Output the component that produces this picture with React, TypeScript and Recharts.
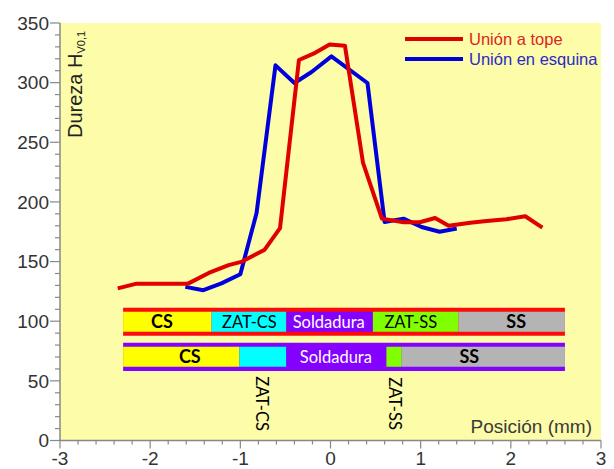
import React from 'react';
import {
  LineChart,
  Line,
  XAxis,
  YAxis,
  CartesianGrid,
  ReferenceArea,
  ReferenceDot,
  Legend,
} from 'recharts';

// ---------- data ----------
const redX = [-2.36, -2.15, -1.58, -1.35, -1.13, -0.98, -0.73, -0.56, -0.35, -0.17, -0.01, 0.16, 0.36, 0.57, 0.81, 0.99, 1.16, 1.31, 1.55, 1.73, 1.95, 2.16, 2.35];
const redY = [127.5, 131.5, 131.5, 140.5, 147, 150, 160, 178, 319, 325, 332, 331, 233, 186, 183, 183, 186.5, 180, 182.5, 184, 185.5, 188, 178.5];

const blueX = [-1.61, -1.41, -1.21, -1.0, -0.82, -0.61, -0.4, -0.21, 0.01, 0.41, 0.6, 0.81, 1.01, 1.21, 1.4];
const blueY = [128.8, 126, 131.7, 139.4, 190.8, 314.5, 299.7, 308.9, 322, 299.7, 183.2, 186, 179, 175, 177.7];

const seriesNames = ['Unión a tope', 'Unión en esquina'];

// composition schematic (x in mm, y in hardness units of the plot)
const topBarEdges = [-2.3, -1.32, -0.49, 0.47, 1.42, 2.6];
const topBarNames = ['CS', 'ZAT-CS', 'Soldadura', 'ZAT-SS', 'SS'];
const topBarLabelX = [-1.87, -0.9, -0.02, 0.89, 2.06];
const topBarOuter = [87.8, 111.2];
const topBarInner = [91.1, 107.9];

const botBarEdges = [-2.3, -1.01, -0.49, 0.62, 0.79, 2.6];
const botBarNames = ['CS', '', 'Soldadura', '', 'SS'];
const botBarLabelX = [-1.56, 0, 0.06, 0, 1.54];
const botBarOuter = [58.2, 81.9];
const botBarInner = [61.8, 78.6];

const sideLabels = ['ZAT-CS', 'ZAT-SS'];
const sideLabelX = [-0.76, 0.72];
const sideLabelY = [31, 31];

// axes
const xMajor = [-3, -2, -1, 0, 1, 2, 3];
const xTicks = [-3, -2.8, -2.6, -2.4, -2.2, -2, -1.8, -1.6, -1.4, -1.2, -1, -0.8, -0.6, -0.4, -0.2, 0, 0.2, 0.4, 0.6, 0.8, 1, 1.2, 1.4, 1.6, 1.8, 2, 2.2, 2.4, 2.6, 2.8, 3];
const yMajor = [0, 50, 100, 150, 200, 250, 300, 350];
const yTicks = [0, 10, 20, 30, 40, 50, 60, 70, 80, 90, 100, 110, 120, 130, 140, 150, 160, 170, 180, 190, 200, 210, 220, 230, 240, 250, 260, 270, 280, 290, 300, 310, 320, 330, 340, 350];

// ---------- styles ----------
const FONT = 'Liberation Sans, Arial, Helvetica, sans-serif';
const BAR_FONT = 'Lato, Open Sans, sans-serif';
const RED = '#e00000';
const BLUE = '#0000dc';
const RED_TEXT = '#e02424';
const BLUE_TEXT = '#2a2ac8';
const PLOT_BG = '#fcfca9';
const segColors = ['#ffff00', '#00ffff', '#8400ff', '#80ff00', '#b4b4b4'];
const labelFill = (name: string) => (name === 'Soldadura' ? '#ffffff' : '#000000');
const labelWeight = (name: string) => (name === 'CS' || name === 'SS' ? 700 : 400);

const redData = redX.map((x, i) => ({ x, y: redY[i] }));
const blueData = blueX.map((x, i) => ({ x, y: blueY[i] }));

const XTick = (props: any) => {
  const { x, y, payload } = props;
  const major = xMajor.includes(payload.value);
  return (
    <g>
      <line x1={x} x2={x} y1={y} y2={y + (major ? 8 : 4)} stroke="#888" strokeWidth={1.2} />
      {major && (
        <text x={x} y={y + 24} textAnchor="middle" fontSize={19} fill="#333" fontFamily={FONT}>
          {payload.value}
        </text>
      )}
    </g>
  );
};

const YTick = (props: any) => {
  const { x, y, payload } = props;
  const major = yMajor.includes(payload.value);
  return (
    <g>
      <line x1={x - (major ? 10 : 5)} x2={x} y1={y} y2={y} stroke="#888" strokeWidth={1.2} />
      {major && (
        <text x={x - 11} y={y} dy="0.36em" textAnchor="end" fontSize={19} fill="#333" fontFamily={FONT}>
          {payload.value}
        </text>
      )}
    </g>
  );
};

const YLabel = (props: any) => {
  const vb = props.viewBox || { x: 0, y: 23, width: 60, height: 417 };
  const tx = vb.x + vb.width + 22;
  const ty = vb.y + 115;
  return (
    <text
      x={tx}
      y={ty}
      transform={`rotate(-90 ${tx} ${ty})`}
      textAnchor="start"
      fontSize={20}
      fill="#222"
      fontFamily={FONT}
    >
      Dureza H
      <tspan fontSize={11} dy={3}>V0,1</tspan>
    </text>
  );
};

const XLabel = (props: any) => {
  const vb = props.viewBox || { x: 60, y: 440, width: 541, height: 29 };
  return (
    <text
      x={vb.x + vb.width - 9}
      y={vb.y - 8}
      textAnchor="end"
      fontSize={19}
      fill="#3a3a3a"
      fontFamily={FONT}
    >
      Posición (mm)
    </text>
  );
};

const renderLegend = () => {
  const cols = [RED, BLUE];
  const tcols = [RED_TEXT, BLUE_TEXT];
  return (
    <div style={{ position: 'relative', width: 214, height: 44 }}>
      {seriesNames.map((n, i) => (
        <div
          key={n}
          style={{ position: 'absolute', left: 0, top: i * 20, height: 20, display: 'flex', alignItems: 'center', whiteSpace: 'nowrap' }}
        >
          <svg width={64} height={20} style={{ display: 'block' }}>
            <line x1={5} x2={63} y1={10} y2={10} stroke={cols[i]} strokeWidth={4} />
          </svg>
          <span style={{ fontFamily: FONT, fontSize: 16.5, color: tcols[i], marginLeft: 5, lineHeight: '20px' }}>{n}</span>
        </div>
      ))}
    </div>
  );
};

const makeBar = (
  key: string,
  edges: number[],
  outer: number[],
  inner: number[],
  outerColor: string
) => {
  const els: any[] = [];
  els.push(
    <ReferenceArea
      key={`${key}-outer`}
      x1={edges[0]}
      x2={edges[edges.length - 1]}
      y1={outer[0]}
      y2={outer[1]}
      fill={outerColor}
      fillOpacity={1}
      stroke="none"
      ifOverflow="visible"
    />
  );
  for (let i = 0; i < edges.length - 1; i++) {
    els.push(
      <ReferenceArea
        key={`${key}-seg-${i}`}
        x1={edges[i]}
        x2={edges[i + 1]}
        y1={inner[0]}
        y2={inner[1]}
        fill={segColors[i]}
        fillOpacity={1}
        stroke="none"
        ifOverflow="visible"
      />
    );
  }
  return els;
};

const makeLabels = (key: string, names: string[], xs: number[], yc: number) =>
  names.map((name, i) =>
    name ? (
      <ReferenceDot
        key={`${key}-lab-${i}`}
        x={xs[i]}
        y={yc}
        r={0}
        ifOverflow="visible"
        shape={(p: any) => (
          <text
            x={p.cx}
            y={p.cy}
            dy="0.36em"
            textAnchor="middle"
            fontSize={labelWeight(name) === 700 ? 18 : 16.5}
            fontWeight={labelWeight(name)}
            fill={labelFill(name)}
            fontFamily={BAR_FONT}
          >
            {name}
          </text>
        )}
      />
    ) : null
  );

export default function App() {
  return (
    <div style={{ position: 'absolute', left: 0, top: 0, width: 614, height: 469, background: '#ffffff' }}>
      <LineChart width={614} height={469} margin={{ top: 23, right: 13, bottom: 0, left: 0 }}>
        <CartesianGrid horizontal={false} vertical={false} fill={PLOT_BG} fillOpacity={1} />
        <XAxis
          dataKey="x"
          type="number"
          domain={[-3, 3]}
          ticks={xTicks}
          interval={0}
          allowDataOverflow
          height={28.5}
          tickSize={0}
          tickMargin={0}
          tickLine={false}
          tick={<XTick />}
          axisLine={{ stroke: '#888', strokeWidth: 1.5 }}
          label={{ content: <XLabel /> } as any}
        />
        <XAxis xAxisId="top" orientation="top" type="number" domain={[0, 1]} height={0} tick={false} tickLine={false} axisLine={{ stroke: '#cfcfcf', strokeWidth: 2 }} />
        <YAxis
          type="number"
          domain={[0, 350]}
          ticks={yTicks}
          interval={0}
          allowDataOverflow
          width={60}
          tickSize={0}
          tickMargin={0}
          tickLine={false}
          tick={<YTick />}
          axisLine={{ stroke: '#888', strokeWidth: 1.5 }}
          label={{ content: <YLabel /> } as any}
        />
        <YAxis yAxisId="right" orientation="right" type="number" domain={[0, 1]} width={0} tick={false} tickLine={false} axisLine={{ stroke: '#cfcfcf', strokeWidth: 2 }} />

        {makeBar('top', topBarEdges, topBarOuter, topBarInner, '#ff0a0a')}
        {makeBar('bot', botBarEdges, botBarOuter, botBarInner, '#8400ff')}
        {makeLabels('top', topBarNames, topBarLabelX, (topBarInner[0] + topBarInner[1]) / 2)}
        {makeLabels('bot', botBarNames, botBarLabelX, (botBarInner[0] + botBarInner[1]) / 2)}
        {sideLabels.map((name, i) => (
          <ReferenceDot
            key={`side-${i}`}
            x={sideLabelX[i]}
            y={sideLabelY[i]}
            r={0}
            ifOverflow="visible"
            shape={(p: any) => (
              <text
                x={p.cx}
                y={p.cy}
                dy="0.36em"
                textAnchor="middle"
                transform={`rotate(90 ${p.cx} ${p.cy})`}
                fontSize={16.5}
                fill="#000"
                fontFamily={BAR_FONT}
              >
                {name}
              </text>
            )}
          />
        ))}

        <Line
          data={blueData}
          dataKey="y"
          type="linear"
          name={seriesNames[1]}
          stroke={BLUE}
          strokeWidth={4}
          strokeLinejoin="round"
          dot={false}
          activeDot={false}
          isAnimationActive={false}
        />
        <Line
          data={redData}
          dataKey="y"
          type="linear"
          name={seriesNames[0]}
          stroke={RED}
          strokeWidth={4}
          strokeLinejoin="round"
          dot={false}
          activeDot={false}
          isAnimationActive={false}
        />
        <Legend
          layout="vertical"
          align="center"
          verticalAlign="middle"
          content={renderLegend}
          wrapperStyle={{ left: 400, top: 29, width: 214, height: 44 }}
        />
      </LineChart>
    </div>
  );
}
